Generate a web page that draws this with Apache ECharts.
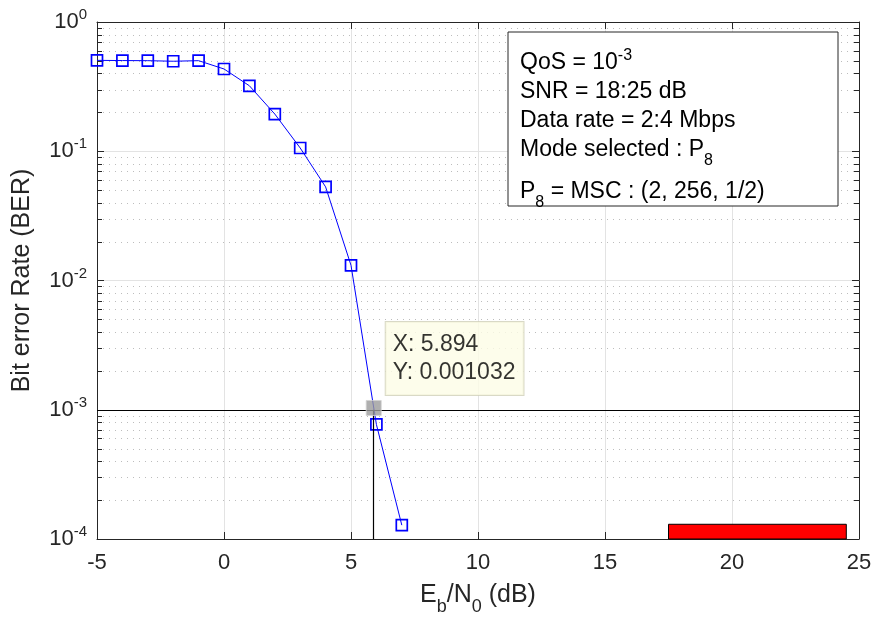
<!DOCTYPE html>
<html><head><meta charset="utf-8">
<script src="https://cdn.jsdelivr.net/npm/echarts@6.0.0/dist/echarts.min.js"></script>
<style>html,body{margin:0;padding:0;background:#fff}#c{width:876px;height:621px}</style>
</head><body><div id="c"></div>
<script>
// ---- data ----
const ebn0 = [-5, -4, -3, -2, -1, 0, 1, 2, 3, 4, 5, 6, 7];
const ber = [0.505, 0.503, 0.502, 0.497, 0.502, 0.433, 0.321, 0.194, 0.106, 0.053, 0.0131, 0.00077, 0.000128];
const xTickValues = [-5, 0, 5, 10, 15, 20, 25];
const yTickExponents = [-4, -3, -2, -1, 0];
const qosLevel = 0.001;
const cursorX = 5.894;
const cursorY = 0.001032;
const snrBandX = [17.5, 24.5];
const snrBandY = [0.0001, 0.00013];
const infoLines = [
  'QoS = 10{sup|-3}',
  'SNR = 18:25 dB',
  'Data rate = 2:4 Mbps',
  'Mode selected : P{sub|8}',
  'P{sub|8} = MSC : (2, 256, 1/2)'
];

const FONT = '"Liberation Sans", Arial, Helvetica, sans-serif';
const AX = '#262626';
const xMin = xTickValues[0], xMax = xTickValues[xTickValues.length - 1];
const yMin = Math.pow(10, yTickExponents[0]), yMax = Math.pow(10, yTickExponents[yTickExponents.length - 1]);

// minor decade gridlines (2..9 x 10^n) -- axis decoration
const minorVals = [];
for (let e = yTickExponents[0]; e < yTickExponents[yTickExponents.length - 1]; e++) {
  for (let k = 2; k <= 9; k++) minorVals.push([xMin, k * Math.pow(10, e)]);
}

const chart = echarts.init(document.getElementById('c'), null, {renderer: 'canvas'});

const supRich = {
  b: {fontSize: 22, fontFamily: FONT, color: AX},
  s: {fontSize: 15, fontFamily: FONT, color: AX, padding: [0, 0, 14, 0]}
};

const textRich = {
  sup: {fontSize: 16, fontFamily: FONT, color: '#000', padding: [0, 0, 14, 0]},
  sub: {fontSize: 16, fontFamily: FONT, color: '#000', padding: [22, 0, 0, 0]}
};
const lineY = [63, 92, 121, 150, 192];

const graphics = [{
  type: 'rect', z: 100,
  shape: {x: 508, y: 32, width: 330, height: 174},
  style: {fill: '#fff', stroke: AX, lineWidth: 1}
}];
infoLines.forEach((t, i) => {
  graphics.push({
    type: 'text', z: 101, x: 520, y: lineY[i],
    style: {text: t, rich: textRich, fontSize: 23, fontFamily: FONT, fill: '#000',
            verticalAlign: 'middle', align: 'left'}
  });
});

const option = {
  animation: false,
  backgroundColor: '#fff',
  grid: {left: 97, right: 17, top: 22, bottom: 82, containLabel: false, outerBoundsMode: 'none'},
  xAxis: [{
    type: 'value', min: xMin, max: xMax, interval: 5,
    axisLine: {show: true, onZero: false, lineStyle: {color: AX, width: 1}},
    axisTick: {show: true, inside: true, length: 7, lineStyle: {color: AX}},
    axisLabel: {fontSize: 22, fontFamily: FONT, color: AX, margin: 13},
    splitLine: {show: true, lineStyle: {color: '#e3e3e3', width: 1}},
    name: 'E{sub|b}/N{sub|0} (dB)', nameLocation: 'middle', nameGap: 35,
    nameTextStyle: {fontSize: 25, fontFamily: FONT, color: AX,
      rich: {sub: {fontSize: 18, fontFamily: FONT, color: AX, padding: [24, 0, 0, 0]}}}
  }, {
    type: 'value', position: 'top', min: xMin, max: xMax, interval: 5,
    axisLine: {show: true, onZero: false, lineStyle: {color: AX, width: 1}},
    axisTick: {show: true, inside: true, length: 7, lineStyle: {color: AX}},
    axisLabel: {show: false}, splitLine: {show: false}
  }],
  yAxis: [{
    type: 'log', logBase: 10, min: yMin, max: yMax,
    axisLine: {show: true, onZero: false, lineStyle: {color: AX, width: 1}},
    axisTick: {show: true, inside: true, length: 7, lineStyle: {color: AX}},
    axisLabel: {
      margin: 10, rich: supRich,
      formatter: v => '{b|10}{s|' + Math.round(Math.log10(v)) + '}'
    },
    splitLine: {show: true, lineStyle: {color: '#e3e3e3', width: 1}},
    name: 'Bit error Rate (BER)', nameLocation: 'middle', nameGap: 62,
    nameTextStyle: {fontSize: 25, fontFamily: FONT, color: AX}
  }, {
    type: 'log', logBase: 10, min: yMin, max: yMax, position: 'right',
    axisLine: {show: true, onZero: false, lineStyle: {color: AX, width: 1}},
    axisTick: {show: true, inside: true, length: 7, lineStyle: {color: AX}},
    axisLabel: {show: false}, splitLine: {show: false}
  }],
  series: [{
    type: 'custom', silent: true, z: 1,
    coordinateSystem: 'cartesian2d', xAxisIndex: 0, yAxisIndex: 0,
    data: minorVals, encode: {x: 0, y: 1},
    renderItem: (params, api) => {
      const cs = params.coordSys;
      const y = Math.round(api.coord([api.value(0), api.value(1)])[1]) + 0.5;
      const L = cs.x, R = cs.x + cs.width;
      return {
        type: 'group', children: [
          {type: 'line', shape: {x1: L, y1: y, x2: R, y2: y},
           style: {stroke: '#bdbdbd', lineWidth: 1, lineDash: [1, 5]}},
          {type: 'line', shape: {x1: L, y1: y, x2: L + 5, y2: y}, style: {stroke: AX, lineWidth: 1}},
          {type: 'line', shape: {x1: R - 5, y1: y, x2: R, y2: y}, style: {stroke: AX, lineWidth: 1}}
        ]
      };
    }
  }, {
    type: 'line', z: 3,
    data: ebn0.map((x, i) => [x, ber[i]]),
    symbol: 'rect', symbolSize: 11,
    lineStyle: {color: '#0000ff', width: 1},
    itemStyle: {color: 'rgba(0,0,0,0)', borderColor: '#0000ff', borderWidth: 1.7},
    markLine: {
      silent: true, symbol: 'none', label: {show: false},
      lineStyle: {color: '#000', width: 1.2, type: 'solid'},
      data: [
        [{coord: [xMin, qosLevel]}, {coord: [xMax, qosLevel]}],
        [{coord: [cursorX, qosLevel]}, {coord: [cursorX, yMin]}]
      ]
    },
    markArea: {
      silent: true, label: {show: false},
      itemStyle: {color: '#ff0000', borderColor: '#000', borderWidth: 1},
      data: [[{coord: [snrBandX[0], snrBandY[0]]}, {coord: [snrBandX[1], snrBandY[1]]}]]
    }
  }, {
    type: 'scatter', z: 5,
    data: [[cursorX, cursorY]],
    symbol: 'rect', symbolSize: 15,
    itemStyle: {color: '#9b9b9b', borderColor: '#d2d2d2', borderWidth: 1},
    label: {
      show: true, position: [20, -78],
      formatter: () => 'X: ' + cursorX + '\nY: ' + cursorY,
      fontSize: 23, fontFamily: FONT, color: '#000', lineHeight: 28,
      backgroundColor: '#fcfce6', borderColor: '#d0d0b8', borderWidth: 1,
      padding: [9, 8, 8, 7], align: 'left', verticalAlign: 'top'
    }
  }],
  graphic: graphics
};
chart.setOption(option);
</script>
</body></html>
